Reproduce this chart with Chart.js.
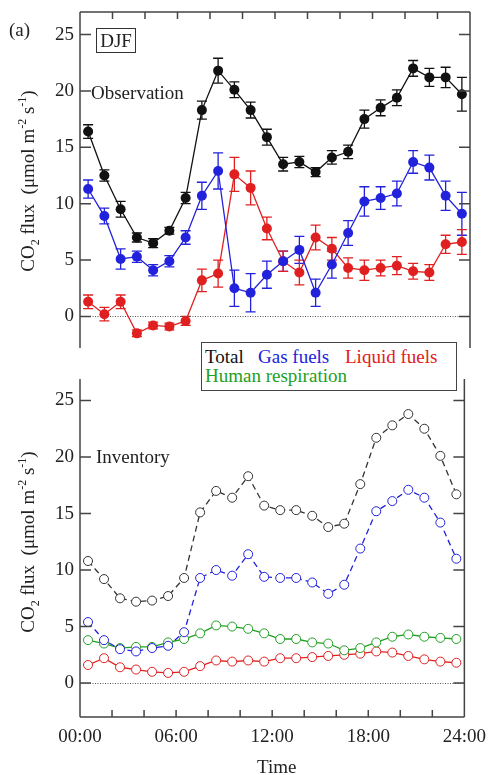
<!DOCTYPE html>
<html>
<head>
<meta charset="utf-8">
<script src="https://cdn.jsdelivr.net/npm/chart.js@4.4.0/dist/chart.umd.min.js"></script>
<style>
  html, body { margin: 0; padding: 0; background: #fff; }
  #wrap { position: relative; width: 495px; height: 775px; overflow: hidden; font-family: 'Liberation Serif', 'DejaVu Serif', serif; color: #222; }
  canvas { position: absolute; left: 0; }
  .txt { position: absolute; white-space: nowrap; font-size: 19px; line-height: 1; }
  .ytitle { position: absolute; width: 260px; text-align: center; font-size: 19px; transform: translate(-50%, -50%) rotate(-90deg); white-space: nowrap; }
  .ytitle sub, .ytitle sup { font-size: 12px; }
  #legend { position: absolute; left: 201px; top: 342px; width: 254px; height: 47px; border: 1.5px solid #444; background: #fff; font-size: 19px; line-height: 1; }
  #legend div { position: absolute; white-space: nowrap; }
  #djf { position: absolute; left: 96px; top: 28px; width: 38px; height: 23px; border: 1.5px solid #333; font-size: 19px; text-align: center; line-height: 24px; }
</style>
</head>
<body>
<div id="wrap">
  <canvas id="topChart" width="495" height="360" style="top:0"></canvas>
  <canvas id="botChart" width="495" height="415" style="top:360px"></canvas>

  <div class="txt" style="left:9px; top:20px;">(a)</div>
  <div id="djf">DJF</div>
  <div class="txt" style="left:91px; top:83px;">Observation</div>
  <div class="txt" style="left:96px; top:447px;">Inventory</div>
  <div class="ytitle" style="left:29px; top:181px;">CO<sub>2</sub> flux&nbsp; (μmol m<sup>-2</sup> s<sup>-1</sup>)</div>
  <div class="ytitle" style="left:29px; top:542px;">CO<sub>2</sub> flux&nbsp; (μmol m<sup>-2</sup> s<sup>-1</sup>)</div>
  <div id="legend">
    <div style="left:3px; top:4px; color:#111;">Total</div>
    <div style="left:56px; top:4px; color:#2222dd;">Gas fuels</div>
    <div style="left:143px; top:4px; color:#e02020;">Liquid fuels</div>
    <div style="left:3px; top:23px; color:#22a022;">Human respiration</div>
  </div>
  <div class="txt" style="left:257px; top:757px;">Time</div>
</div>

<script>
// half-hour positions of each hourly value
const hours = [0.5, 1.5, 2.5, 3.5, 4.5, 5.5, 6.5, 7.5, 8.5, 9.5, 10.5, 11.5,
               12.5, 13.5, 14.5, 15.5, 16.5, 17.5, 18.5, 19.5, 20.5, 21.5, 22.5, 23.5];

// Observation (top panel)
const obsTotal = [16.4, 12.5, 9.5, 7.0, 6.5, 7.6, 10.5, 18.3, 21.8, 20.1, 18.3, 15.9,
                  13.5, 13.7, 12.8, 14.1, 14.6, 17.5, 18.5, 19.4, 22.0, 21.2, 21.2, 19.7];
const obsTotalErr = [0.6, 0.5, 0.7, 0.4, 0.4, 0.3, 0.5, 0.8, 1.1, 0.7, 0.7, 0.7,
                     0.6, 0.5, 0.4, 0.6, 0.6, 0.8, 0.7, 0.7, 0.7, 0.8, 0.9, 1.5];
const obsGas = [11.3, 8.9, 5.1, 5.3, 4.1, 4.9, 7.0, 10.7, 12.9, 2.5, 2.1, 3.7,
                4.9, 5.9, 2.1, 4.6, 7.4, 10.2, 10.5, 10.9, 13.7, 13.2, 10.7, 9.1];
const obsGasErr = [0.8, 0.7, 0.9, 0.5, 0.5, 0.5, 0.6, 1.2, 1.6, 1.6, 1.7, 1.2,
                   0.9, 1.2, 1.2, 1.2, 1.1, 1.3, 1.0, 1.1, 1.0, 1.1, 1.3, 1.9];
const obsLiquid = [1.3, 0.2, 1.3, -1.5, -0.8, -0.9, -0.4, 3.2, 3.8, 12.6, 11.4, 7.8,
                   4.9, 3.9, 7.0, 6.0, 4.3, 4.1, 4.3, 4.5, 4.0, 3.9, 6.4, 6.6];
const obsLiquidErr = [0.6, 0.6, 0.6, 0.3, 0.3, 0.3, 0.4, 1.0, 1.2, 1.5, 1.5, 1.0,
                      0.9, 1.1, 1.1, 1.0, 0.9, 0.9, 0.7, 0.8, 0.7, 0.7, 0.8, 1.1];

// Inventory (bottom panel)
const invTotal = [10.8, 9.2, 7.5, 7.2, 7.3, 7.7, 9.3, 15.1, 17.0, 16.4, 18.3, 15.7,
                  15.3, 15.3, 14.8, 13.8, 14.1, 17.6, 21.7, 22.8, 23.8, 22.5, 20.1, 16.7];
const invGas = [5.4, 3.8, 3.0, 2.8, 3.1, 3.3, 4.5, 9.3, 10.0, 9.5, 11.4, 9.4,
                9.3, 9.3, 8.9, 7.9, 8.7, 11.9, 15.2, 16.1, 17.1, 16.4, 14.2, 11.0];
const invLiquid = [1.6, 2.2, 1.4, 1.2, 1.0, 0.9, 1.0, 1.5, 2.0, 1.9, 2.0, 1.9,
                   2.2, 2.2, 2.3, 2.4, 2.5, 2.6, 2.8, 2.7, 2.4, 2.1, 1.9, 1.8];
const invHuman = [3.8, 3.5, 3.1, 3.2, 3.2, 3.6, 3.9, 4.4, 5.1, 5.0, 4.8, 4.4,
                  3.9, 3.9, 3.6, 3.5, 2.9, 3.1, 3.6, 4.1, 4.3, 4.1, 4.0, 3.9];

const yTicks = [0, 5, 10, 15, 20, 25];
const xTicks = [0, 6, 12, 18, 24];
const xTickLabels = ['00:00', '06:00', '12:00', '18:00', '24:00'];
const xMinorTicks = [2, 4, 6, 8, 10, 12, 14, 16, 18, 20, 22];

const BLACK = '#111', BLUE = '#2222dd', RED = '#e02020', GREEN = '#22a022';

Chart.defaults.font.family = "'Liberation Serif', 'DejaVu Serif', serif";
Chart.defaults.font.size = 19;
Chart.defaults.color = '#222';

function pts(vals) { return vals.map((v, i) => ({ x: hours[i], y: v })); }

// frame, inward ticks and dotted zero line
function framePlugin(side) {
  return {
    id: 'frame',
    beforeDatasetsDraw(chart) {
      const { ctx, chartArea: a, scales: { y } } = chart;
      ctx.save();
      ctx.strokeStyle = '#555';
      ctx.lineWidth = 1;
      ctx.setLineDash([1, 1.5]);
      const y0 = Math.round(y.getPixelForValue(0)) + 0.5;
      ctx.beginPath(); ctx.moveTo(a.left, y0); ctx.lineTo(a.right, y0); ctx.stroke();
      ctx.restore();
    },
    afterDraw(chart) {
      const { ctx, chartArea: a, scales: { x, y } } = chart;
      ctx.save();
      ctx.strokeStyle = '#444';
      ctx.lineWidth = 1.5;
      ctx.beginPath();
      ctx.moveTo(a.left, a.top); ctx.lineTo(a.left, a.bottom);
      ctx.moveTo(a.right, a.top); ctx.lineTo(a.right, a.bottom);
      const yEdge = side === 'top' ? a.top : a.bottom;
      ctx.moveTo(a.left, yEdge); ctx.lineTo(a.right, yEdge);
      yTicks.forEach(v => {
        const py = y.getPixelForValue(v);
        ctx.moveTo(a.left, py); ctx.lineTo(a.left + 11, py);
        ctx.moveTo(a.right, py); ctx.lineTo(a.right - 11, py);
      });
      xMinorTicks.forEach(v => {
        const px = x.getPixelForValue(v);
        ctx.moveTo(px, yEdge);
        ctx.lineTo(px, side === 'top' ? yEdge + 7 : yEdge - 7);
      });
      ctx.stroke();
      ctx.restore();
    }
  };
}

const errorBarPlugin = {
  id: 'errbars',
  beforeDatasetsDraw(chart) {
    const { ctx, scales: { x, y } } = chart;
    ctx.save();
    ctx.lineWidth = 1.3;
    chart.data.datasets.forEach(ds => {
      if (!ds.errors) return;
      ctx.strokeStyle = ds.borderColor;
      ds.errors.forEach((e, i) => {
        const px = x.getPixelForValue(hours[i]);
        const hi = y.getPixelForValue(ds.data[i].y + e);
        const lo = y.getPixelForValue(ds.data[i].y - e);
        ctx.beginPath();
        ctx.moveTo(px, hi); ctx.lineTo(px, lo);
        ctx.moveTo(px - 5, hi); ctx.lineTo(px + 5, hi);
        ctx.moveTo(px - 5, lo); ctx.lineTo(px + 5, lo);
        ctx.stroke();
      });
    });
    ctx.restore();
  }
};

function yScale(min, max) {
  return {
    type: 'linear', min: min, max: max,
    grid: { display: false, drawTicks: false },
    border: { display: false },
    afterBuildTicks: s => { s.ticks = yTicks.map(v => ({ value: v })); },
    afterFit: s => { s.width = 80; s.paddingTop = 0; s.paddingBottom = 0; },
    ticks: { padding: 6, color: '#222', font: { size: 19 } }
  };
}

function obsSet(vals, errs, color) {
  return {
    data: pts(vals), errors: errs, borderColor: color, backgroundColor: color,
    borderWidth: 1.3, pointRadius: 5, pointBackgroundColor: color, pointBorderColor: color,
    pointBorderWidth: 0, tension: 0
  };
}

function invSet(vals, color, dash) {
  return {
    data: pts(vals), borderColor: color, backgroundColor: '#fff',
    borderWidth: 1.3, borderDash: dash, pointRadius: 4.5, pointBackgroundColor: '#fff',
    pointBorderColor: color, pointBorderWidth: 1, tension: 0
  };
}

new Chart(document.getElementById('topChart'), {
  type: 'line',
  data: {
    datasets: [
      obsSet(obsTotal, obsTotalErr, BLACK),
      obsSet(obsGas, obsGasErr, BLUE),
      obsSet(obsLiquid, obsLiquidErr, RED)
    ]
  },
  options: {
    responsive: false, animation: false, devicePixelRatio: 1,
    layout: { padding: { top: 12, right: 25, bottom: 12, left: 0 } },
    plugins: { legend: { display: false }, tooltip: { enabled: false } },
    scales: {
      x: { type: 'linear', min: 0, max: 24, display: false },
      y: yScale(-2.8, 27)
    }
  },
  plugins: [errorBarPlugin, framePlugin('top')]
});

new Chart(document.getElementById('botChart'), {
  type: 'line',
  data: {
    datasets: [
      invSet(invTotal, '#333', [6, 4]),
      invSet(invGas, BLUE, [6, 4]),
      invSet(invHuman, GREEN, []),
      invSet(invLiquid, RED, [])
    ]
  },
  options: {
    responsive: false, animation: false, devicePixelRatio: 1,
    layout: { padding: { top: 19, right: 25, bottom: 0, left: 0 } },
    plugins: { legend: { display: false }, tooltip: { enabled: false } },
    scales: {
      x: {
        type: 'linear', min: 0, max: 24,
        grid: { display: false, drawTicks: false },
        border: { display: false },
        afterBuildTicks: s => { s.ticks = xTicks.map(v => ({ value: v })); },
        afterFit: s => { s.height = 58; },
        ticks: {
          padding: 9, autoSkip: false, maxRotation: 0, color: '#222', font: { size: 19 },
          callback: v => xTickLabels[xTicks.indexOf(v)]
        }
      },
      y: yScale(-3, 26.9)
    }
  },
  plugins: [framePlugin('bottom')]
});
</script>
</body>
</html>
